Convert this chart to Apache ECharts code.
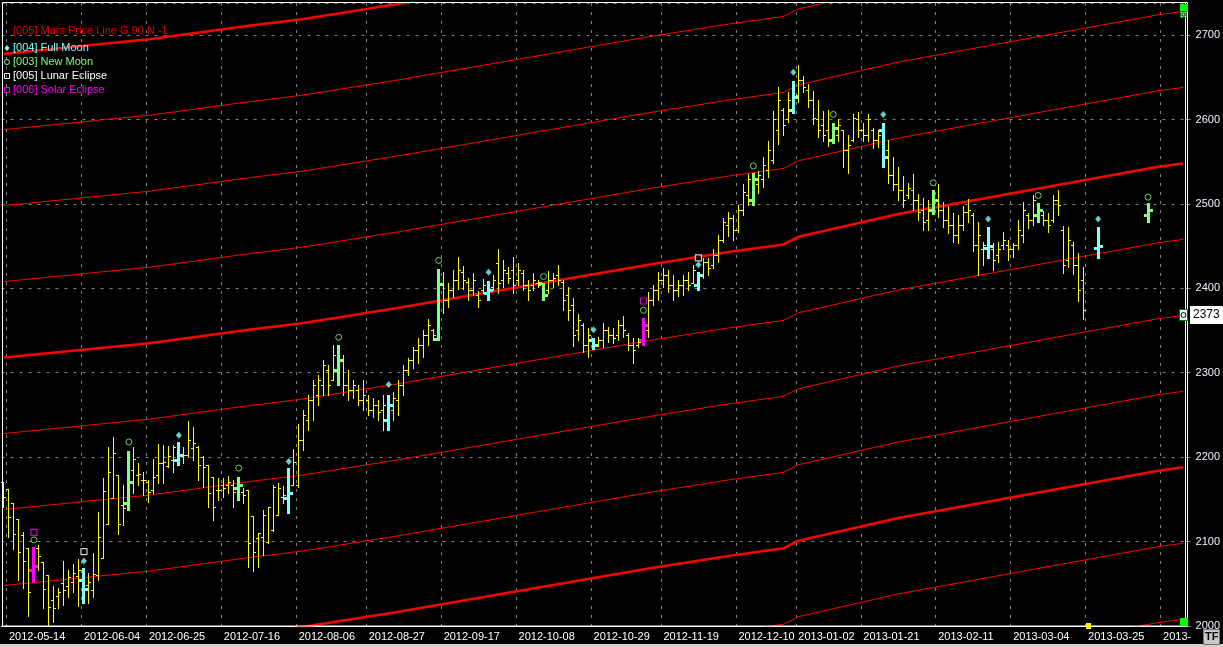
<!DOCTYPE html>
<html><head><meta charset="utf-8">
<script src="https://cdn.jsdelivr.net/npm/echarts/dist/echarts.min.js"></script>
<style>html,body{margin:0;padding:0;background:#000;overflow:hidden}#c{width:1223px;height:647px}</style>
</head><body><div id="c"></div>
<script>
// ---------- data ----------
const startDate = '2012-05-11';
const endDate = '2013-04-19';
const missingDates = ['2012-06-07','2012-06-08','2012-08-15','2012-10-30','2012-12-24','2012-12-25','2012-12-26','2012-12-31','2013-01-01'];
const labelDates = ['2012-05-14','2012-06-04','2012-06-25','2012-07-16','2012-08-06','2012-08-27','2012-09-17','2012-10-08','2012-10-29','2012-11-19','2012-12-10','2013-01-02','2013-01-21','2013-02-11','2013-03-04','2013-03-25','2013-04-15'];

const opens = [2171,2162,2146,2127,2108,2092,2066,2092,2076,2060,2031,2036,2051,2047,2052,2059,2055,2049,2043,2060,
2081,2121,2152,2179,2143,2146,2185,2179,2173,2171,2161,2179,2193,2190,2197,2197,2203,2203,2211,2212,
2200,2191,2177,2161,2167,2167,2167,2164,2159,2161,2130,2104,2105,2100,2114,2132,2153,2152,2167,2167,
2220,2244,2268,2274,2286,2303,2292,2303,2315,2286,2280,2280,2268,2268,2256,2262,2256,2244,2256,2268,
2286,2303,2315,2327,2333,2345,2351,2340,2404,2386,2398,2410,2419,2408,2398,2392,2398,2395,2402,2430,
2410,2418,2422,2410,2418,2404,2404,2406,2406,2398,2410,2416,2408,2392,2380,2351,2357,2333,2339,2333,
2339,2351,2345,2345,2357,2345,2333,2333,2339,2351,2386,2398,2410,2416,2404,2398,2404,2410,2406,2404,
2416,2431,2428,2440,2457,2475,2483,2469,2493,2511,2505,2523,2529,2540,2552,2588,2611,2600,2611,2629,
2647,2635,2623,2600,2594,2588,2576,2582,2588,2564,2576,2600,2588,2582,2588,2576,2588,2564,2534,2523,
2517,2511,2517,2505,2493,2481,2493,2505,2493,2481,2475,2463,2475,2491,2487,2451,2446,2448,2446,2440,
2451,2451,2446,2451,2463,2487,2481,2487,2487,2481,2481,2505,2469,2434,2451,2428,2410];
const highs = [2171,2162,2146,2127,2111,2092,2094,2096,2076,2060,2047,2045,2077,2066,2074,2079,2069,2063,2087,2135,
2175,2212,2224,2179,2167,2207,2212,2193,2183,2173,2198,2216,2214,2213,2214,2218,2212,2243,2236,2213,
2201,2191,2177,2175,2175,2178,2173,2177,2164,2161,2130,2110,2137,2141,2167,2169,2166,2187,2210,2239,
2256,2274,2292,2297,2315,2309,2333,2333,2321,2303,2292,2286,2292,2274,2270,2268,2274,2274,2277,2292,
2309,2318,2331,2341,2351,2364,2352,2423,2419,2406,2422,2437,2427,2412,2418,2397,2411,2409,2416,2446,
2434,2425,2437,2430,2422,2410,2418,2410,2406,2421,2418,2428,2410,2402,2388,2370,2359,2353,2341,2342,
2359,2354,2353,2363,2367,2347,2341,2341,2365,2396,2404,2419,2424,2422,2416,2410,2416,2419,2428,2419,
2436,2436,2446,2463,2483,2491,2487,2499,2523,2536,2537,2539,2556,2575,2610,2639,2614,2632,2646,2664,
2652,2642,2634,2623,2610,2611,2596,2601,2588,2582,2607,2609,2596,2607,2590,2587,2596,2576,2556,2544,
2533,2525,2536,2512,2507,2505,2517,2524,2502,2497,2489,2487,2497,2506,2489,2478,2455,2473,2454,2455,
2467,2457,2454,2481,2502,2489,2511,2501,2492,2489,2511,2517,2474,2473,2455,2442,2425];
const lows = [2141,2105,2091,2055,2045,2012,2052,2066,2021,2001,2005,2021,2025,2034,2040,2024,2027,2027,2034,2055,
2081,2121,2152,2109,2120,2137,2158,2167,2155,2147,2158,2169,2169,2188,2182,2191,2193,2200,2197,2173,
2165,2141,2126,2149,2153,2158,2141,2149,2146,2070,2065,2070,2084,2098,2113,2132,2146,2134,2167,2165,
2209,2232,2244,2262,2274,2274,2292,2286,2274,2268,2270,2262,2256,2250,2247,2244,2232,2232,2244,2250,
2274,2297,2306,2312,2319,2333,2339,2339,2371,2378,2390,2399,2399,2386,2392,2378,2395,2386,2398,2395,
2402,2406,2395,2404,2398,2386,2398,2402,2386,2395,2402,2404,2374,2363,2332,2339,2325,2319,2328,2332,
2331,2337,2335,2339,2342,2327,2312,2331,2333,2342,2380,2386,2401,2396,2386,2391,2392,2398,2406,2398,
2412,2416,2424,2431,2455,2462,2457,2467,2487,2499,2499,2513,2520,2532,2549,2571,2582,2597,2608,2621,
2632,2615,2595,2579,2574,2569,2572,2574,2544,2537,2574,2579,2574,2574,2566,2568,2544,2525,2517,2505,
2496,2507,2493,2481,2469,2469,2488,2485,2473,2466,2455,2454,2469,2478,2444,2416,2428,2436,2422,2431,
2446,2434,2437,2446,2455,2472,2475,2478,2475,2467,2478,2487,2418,2425,2417,2385,2364];
const closes = [2153,2129,2109,2088,2077,2040,2071,2083,2044,2023,2021,2040,2043,2058,2063,2066,2044,2052,2062,2105,
2160,2182,2205,2121,2140,2171,2198,2180,2173,2159,2177,2193,2194,2201,2212,2203,2203,2220,2217,2191,
2188,2158,2141,2161,2164,2171,2159,2167,2155,2098,2088,2110,2131,2141,2165,2164,2155,2158,2194,2220,
2250,2268,2286,2292,2309,2286,2321,2315,2286,2280,2286,2268,2274,2256,2262,2254,2262,2262,2270,2286,
2303,2315,2327,2333,2345,2357,2345,2405,2386,2398,2410,2422,2410,2398,2410,2386,2404,2398,2410,2406,
2422,2412,2404,2422,2404,2398,2410,2404,2392,2410,2412,2410,2386,2374,2345,2363,2333,2345,2333,2339,
2351,2345,2341,2357,2351,2333,2327,2337,2357,2386,2398,2410,2416,2404,2398,2404,2410,2404,2422,2416,
2431,2424,2440,2457,2479,2483,2469,2493,2514,2529,2529,2534,2546,2564,2600,2623,2594,2623,2627,2647,
2638,2623,2602,2588,2582,2576,2590,2594,2564,2570,2602,2588,2582,2600,2576,2582,2555,2534,2523,2517,
2505,2519,2505,2491,2479,2493,2505,2493,2481,2475,2463,2475,2491,2493,2451,2463,2451,2450,2434,2446,
2457,2446,2451,2469,2493,2481,2505,2493,2481,2475,2505,2499,2428,2457,2428,2398,2374];

// projected bars drawn by the moon study on future dates
const projDates = ['2013-03-27','2013-04-10'];
const projOpens = [2448,2487];
const projHighs = [2473,2501];
const projLows = [2436,2478];
const projCloses = [2450,2493];

const fullMoonDates = ['2012-06-04','2012-07-03','2012-08-02','2012-08-31','2012-09-28','2012-10-29','2012-11-28','2012-12-28','2013-01-25','2013-02-25','2013-03-27'];
const fullMoonValues = [2077,2226,2195,2286,2419,2351,2428,2656,2606,2482,2482];
const newMoonDates = ['2012-05-21','2012-06-19','2012-07-19','2012-08-17','2012-09-14','2012-10-15','2012-11-13','2012-12-13','2013-01-11','2013-02-08','2013-03-11','2013-04-10'];
const newMoonValues = [2102,2218,2187,2342,2433,2414,2374,2545,2606,2525,2510,2508];
const lunarEclipseDates = ['2012-06-04','2012-11-28'];
const lunarEclipseValues = [2088,2436];
const solarEclipseDates = ['2012-05-21','2012-11-13'];
const solarEclipseValues = [2111,2385];

// Mars price line (base level) read at key dates; parallel lines every 90 points
const marsKeyDates = ['2012-05-11','2012-06-25','2012-07-23','2012-08-07','2012-09-04','2012-11-14','2012-12-06','2012-12-21','2013-01-02','2013-01-30','2013-04-12','2013-04-19'];
const marsBase = [2318,2335,2351,2359,2377,2428,2443,2452,2461,2488,2544,2548];
const marsStep = 90;
const marsLevels = [-6,-5,-4,-3,-2,-1,0,1,2,3,4];
const lastLineValue = 2373;
const lastLineDate = '2013-03-25';

// ---------- build ----------
function buildDates(){
  const out=[]; const d=new Date(startDate+'T00:00:00Z'); const e=new Date(endDate+'T00:00:00Z');
  while(d<=e){ const wd=d.getUTCDay(); const s=d.toISOString().slice(0,10);
    if(wd!==0&&wd!==6&&missingDates.indexOf(s)<0) out.push(s); d.setUTCDate(d.getUTCDate()+1); }
  return out;
}
const dates = buildDates();
const labelSet = new Set(labelDates);

const COL = {bar:'#ffff00', full:'#80ffff', nw:'#80ff80', lunar:'#ffffff', solar:'#ff00ff', mars:'#ff0000'};
function kindOf(d){
  if(solarEclipseDates.indexOf(d)>=0) return 'solar';
  if(fullMoonDates.indexOf(d)>=0) return 'full';
  if(newMoonDates.indexOf(d)>=0) return 'nw';
  return null;
}
const barData=[]; const barKinds=[];
for(let i=0;i<opens.length;i++){ barData.push([dates[i],opens[i],highs[i],lows[i],closes[i]]); barKinds.push(kindOf(dates[i])); }
for(let i=0;i<projDates.length;i++){ barData.push([projDates[i],projOpens[i],projHighs[i],projLows[i],projCloses[i]]); barKinds.push(kindOf(projDates[i])); }

function renderOHLC(params, api){
  const k = barKinds[params.dataIndex];
  const xi = api.value(0);
  const pH = api.coord([xi, api.value(2)]);
  const yL = Math.round(api.coord([xi, api.value(3)])[1]);
  const yO = Math.round(api.coord([xi, api.value(1)])[1]);
  const yC = Math.round(api.coord([xi, api.value(4)])[1]);
  const X = Math.floor(pH[0]); const yH = Math.round(pH[1]);
  const col = k ? COL[k] : COL.bar;
  const st = {fill: col};
  let ch;
  if(k){
    ch = [
      {type:'rect', shape:{x:X-1,y:yH,width:3,height:yL-yH+1}, style:st},
      {type:'rect', shape:{x:X-4,y:yO-1,width:3,height:3}, style:st},
      {type:'rect', shape:{x:X+2,y:yC-1,width:3,height:3}, style:st}
    ];
  } else {
    ch = [
      {type:'rect', shape:{x:X,y:yH,width:1,height:yL-yH+1}, style:st},
      {type:'rect', shape:{x:X-2,y:yO,width:2,height:1}, style:st},
      {type:'rect', shape:{x:X+1,y:yC,width:2,height:1}, style:st}
    ];
  }
  return {type:'group', children:ch};
}

const series = [];
marsLevels.forEach(function(k){
  const thick = (k % 4 === 0);
  series.push({type:'line', name:'[005] Mars Price Line G 90 N -1', silent:true, symbol:'none', clip:true, z:1,
    lineStyle:{color:COL.mars, width: thick?2.5:1},
    data: marsKeyDates.map(function(d,j){ return [d, marsBase[j] + k*marsStep]; })});
});
series.push({type:'custom', name:'price', renderItem:renderOHLC, clip:true, z:3, silent:true,
  encode:{x:0,y:[1,2,3,4]}, data:barData});
series.push({type:'scatter', name:'[004] Full Moon', symbol:'diamond', symbolSize:[6,7], z:4, silent:true,
  itemStyle:{color:COL.full}, data: fullMoonDates.map(function(d,i){return [d, fullMoonValues[i]];})});
series.push({type:'scatter', name:'[003] New Moon', symbol:'circle', symbolSize:6, z:4, silent:true,
  itemStyle:{color:'#000', borderColor:COL.nw, borderWidth:1}, data: newMoonDates.map(function(d,i){return [d, newMoonValues[i]];})});
series.push({type:'scatter', name:'[005] Lunar Eclipse', symbol:'rect', symbolSize:6, z:4, silent:true,
  itemStyle:{color:'#000', borderColor:COL.lunar, borderWidth:1.2}, data: lunarEclipseDates.map(function(d,i){return [d, lunarEclipseValues[i]];})});
series.push({type:'scatter', name:'[006] Solar Eclipse', symbol:'rect', symbolSize:6, z:4, silent:true,
  itemStyle:{color:'#000', borderColor:COL.solar, borderWidth:1.2}, data: solarEclipseDates.map(function(d,i){return [d, solarEclipseValues[i]];})});

const FONT = '"Liberation Sans", Arial, sans-serif';
const legendItems = [
  {text:'[005] Mars Price Line G 90 N -1', color:'#e00000', y:31, icon:null},
  {text:'[004] Full Moon', color:COL.full, y:48, icon:'diamond'},
  {text:'[003] New Moon', color:COL.nw, y:62, icon:'circle'},
  {text:'[005] Lunar Eclipse', color:COL.lunar, y:76, icon:'rect'},
  {text:'[006] Solar Eclipse', color:COL.solar, y:90, icon:'rect'}
];
const graphics = [];
graphics.push({type:'rect', z:50, silent:true, shape:{x:2.5,y:2.5,width:1185,height:623.5}, style:{fill:null, stroke:'#ffffff', lineWidth:1}});
legendItems.forEach(function(it){
  graphics.push({type:'text', z:60, silent:true, x:13, y:it.y-6, style:{text:it.text, fill:it.color, font:'11px '+FONT}});
  if(it.icon==='diamond') graphics.push({type:'polygon', z:60, silent:true, shape:{points:[[7,it.y-3],[9.5,it.y],[7,it.y+3],[4.5,it.y]]}, style:{fill:it.color}});
  if(it.icon==='circle') graphics.push({type:'circle', z:60, silent:true, shape:{cx:7,cy:it.y,r:2.5}, style:{fill:null, stroke:it.color, lineWidth:1}});
  if(it.icon==='rect') graphics.push({type:'rect', z:60, silent:true, shape:{x:4.5,y:it.y-2.5,width:5,height:5}, style:{fill:null, stroke:it.color, lineWidth:1}});
});
// window decorations
graphics.push({type:'rect', z:60, silent:true, shape:{x:1180,y:4,width:8,height:8}, style:{fill:'#00ff00'}});
graphics.push({type:'rect', z:61, silent:true, shape:{x:1180.5,y:11.5,width:6,height:6}, style:{fill:'#ffffff', stroke:'#008000', lineWidth:1}});
graphics.push({type:'rect', z:62, silent:true, shape:{x:1182,y:13,width:3,height:3}, style:{fill:null, stroke:'#000', lineWidth:1}});
graphics.push({type:'rect', z:60, silent:true, shape:{x:1180,y:618,width:8,height:8}, style:{fill:'#00ff00'}});
graphics.push({type:'rect', z:60, silent:true, shape:{x:1203.5,y:629.5,width:16,height:15}, style:{fill:'#c8c8c8', stroke:'#707070', lineWidth:1}});
graphics.push({type:'text', z:61, silent:true, x:1205, y:631, style:{text:'TF', fill:'#000', font:'bold 11px '+FONT}});
graphics.push({type:'rect', z:40, silent:true, shape:{x:0,y:644,width:1223,height:3}, style:{fill:'#d4d0c8'}});

const option = {
  backgroundColor:'#000',
  animation:false,
  grid:{left:1.5, right:35, top:3, bottom:21, containLabel:false},
  xAxis:{type:'category', data:dates, boundaryGap:true,
    axisLine:{show:true, lineStyle:{color:'#ffffff'}},
    axisTick:{show:false},
    axisLabel:{interval:function(i,v){return labelSet.has(v);}, color:'#ffffff', fontSize:11, fontFamily:FONT, align:'left', margin:5,
      formatter:function(v,i){ return i > dates.length-8 ? v.slice(0,5) : v; }},
    splitLine:{show:true, interval:function(i,v){return labelSet.has(v);}, lineStyle:{color:'#808080', type:[3,6], width:1}}
  },
  yAxis:{type:'value', position:'right', min:2000, max:2738, interval:100,
    axisLine:{show:true, lineStyle:{color:'#ffffff'}},
    axisTick:{show:true, length:5, lineStyle:{color:'#9a9a9a'}},
    axisLabel:{color:'#eef4ff', fontSize:11, fontFamily:FONT, margin:10, showMaxLabel:false,
      formatter:function(v){ return String(v); }},
    splitLine:{show:true, lineStyle:{color:'#808080', type:[3,6], width:1}}
  },
  graphic: graphics,
  series: series
};
const chart = echarts.init(document.getElementById('c'), null, {renderer:'canvas'});
chart.setOption(option);
// value tag at right axis and current-bar marker, placed through the chart's scales
const yTag = Math.round(chart.convertToPixel({yAxisIndex:0}, lastLineValue)) + 4;
const xTag = chart.convertToPixel({xAxisIndex:0}, lastLineDate);
const extra = graphics.slice();
extra.push({type:'rect', z:70, silent:true, shape:{x:1190,y:yTag-9,width:33,height:18}, style:{fill:'#ffffff'}});
extra.push({type:'text', z:71, silent:true, x:1193, y:yTag-6, style:{text:String(lastLineValue), fill:'#000', font:'12px '+FONT}});
extra.push({type:'rect', z:70, silent:true, shape:{x:1179.5,y:yTag-5.5,width:8,height:11}, style:{fill:'#ffffff', stroke:'#008000', lineWidth:1}});
extra.push({type:'circle', z:71, silent:true, shape:{cx:1183.5,cy:yTag,r:2.5}, style:{fill:null, stroke:'#000', lineWidth:1}});
extra.push({type:'rect', z:70, silent:true, shape:{x:Math.floor(xTag)-2,y:623,width:5,height:6}, style:{fill:'#ffff00'}});
chart.setOption({graphic: extra}, {replaceMerge:['graphic']});
</script>
</body></html>
